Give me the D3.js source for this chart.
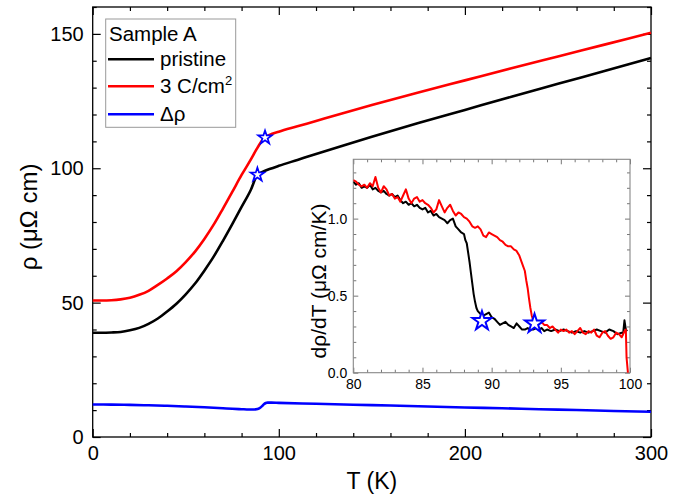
<!DOCTYPE html>
<html><head><meta charset="utf-8">
<script src="https://cdn.jsdelivr.net/npm/d3@7"></script>
<style>
body{margin:0;background:#fff}
svg{display:block}
text{font-family:"Liberation Sans",Arial,sans-serif;fill:#000}
</style>
</head><body>
<svg id="c" width="693" height="497"></svg>
<script>
// ---------- data ----------
const mainT      = [0, 5, 10, 15, 20, 25, 30, 35, 40, 45, 50, 55, 60, 65, 70, 75, 80, 85, 88.5, 90, 92, 95, 100, 110, 120, 133, 150, 175, 200, 225, 250, 275, 300];
const pristine   = [38.8, 38.8, 38.9, 39.1, 39.7, 40.6, 42.1, 44.1, 46.7, 49.6, 53.1, 57.1, 61.9, 67.1, 73.0, 79.2, 85.6, 92.0, 97.6, 98.3, 98.9, 99.7, 100.9, 103.1, 105.3, 108.1, 111.7, 116.8, 121.7, 126.6, 131.4, 136.2, 141.0];
const irrT       = [0, 5, 10, 15, 20, 25, 30, 35, 40, 45, 50, 55, 60, 65, 70, 75, 80, 85, 88, 90, 91.5, 92.6, 95, 100, 110, 120, 133, 150, 175, 200, 225, 250, 275, 300];
const irradiated = [50.8, 50.8, 50.9, 51.2, 51.8, 52.9, 54.4, 56.6, 59.0, 61.7, 65.1, 69.0, 73.7, 79.0, 85.0, 91.2, 97.5, 103.3, 107.0, 109.3, 110.7, 111.4, 112.4, 113.6, 115.6, 117.6, 120.2, 123.5, 128.2, 132.7, 137.2, 141.6, 146.0, 150.4];
const deltaT     = [0, 10, 20, 30, 40, 50, 60, 70, 75, 80, 84, 86, 88, 89, 90, 91, 92, 93, 94, 96, 100, 120, 140, 160, 180, 200, 220, 240, 260, 280, 300];
const deltaRho   = [12.1, 12.05, 11.95, 11.8, 11.6, 11.35, 11.05, 10.7, 10.5, 10.35, 10.25, 10.25, 10.35, 10.5, 10.9, 11.5, 12.2, 12.65, 12.8, 12.8, 12.7, 12.35, 12.0, 11.7, 11.35, 11.0, 10.7, 10.35, 10.05, 9.7, 9.4];
const starMainT  = [88.5, 92.6];
const starMainV  = [97.6, 111.4];

const insetTp = [80.0,80.2,80.4,80.6,80.8,81.0,81.2,81.4,81.6,81.8,82.0,82.2,82.4,82.6,82.8,83.0,83.2,83.4,83.6,83.8,84.0,84.2,84.4,84.6,84.8,85.0,85.2,85.4,85.6,85.8,86.0,86.2,86.4,86.6,86.8,87.0,87.2,87.4,87.6,87.8,88.0,88.1,88.2,88.3,88.4,88.5,88.6,88.7,88.8,88.9,89.0,89.2,89.4,89.6,89.8,90.0,90.2,90.4,90.6,90.8,91.0,91.2,91.4,91.6,91.8,92.0,92.2,92.4,92.6,92.8,93.0,93.2,93.4,93.6,93.8,94.0,94.3,94.6,94.9,95.2,95.5,95.8,96.1,96.4,96.7,97.0,97.3,97.6,97.9,98.2,98.5,98.8,99.1,99.4,99.5,99.6,99.7,99.8];
const insetP  = [1.24,1.22,1.23,1.20,1.21,1.20,1.22,1.19,1.20,1.18,1.17,1.18,1.16,1.15,1.16,1.14,1.15,1.12,1.10,1.11,1.09,1.10,1.08,1.09,1.07,1.06,1.07,1.04,1.05,1.02,1.03,1.01,1.00,0.99,0.97,0.99,1.00,0.95,0.93,0.91,0.90,0.86,0.84,0.78,0.72,0.65,0.58,0.51,0.46,0.42,0.40,0.38,0.37,0.38,0.39,0.36,0.35,0.33,0.31,0.32,0.33,0.31,0.30,0.29,0.32,0.30,0.28,0.28,0.29,0.28,0.28,0.29,0.28,0.29,0.27,0.28,0.27,0.28,0.27,0.28,0.27,0.26,0.27,0.26,0.27,0.26,0.27,0.28,0.27,0.26,0.28,0.27,0.25,0.26,0.25,0.34,0.28,0.27];
const insetTi = [80.0,80.2,80.4,80.6,80.8,81.0,81.2,81.4,81.6,81.8,82.0,82.2,82.4,82.6,82.8,83.0,83.2,83.4,83.6,83.8,84.0,84.2,84.4,84.6,84.8,85.0,85.2,85.4,85.6,85.8,86.0,86.2,86.4,86.6,86.8,87.0,87.2,87.4,87.6,87.8,88.0,88.2,88.4,88.6,88.8,89.0,89.2,89.4,89.6,89.8,90.0,90.2,90.4,90.6,90.8,91.0,91.2,91.4,91.6,91.8,92.0,92.2,92.4,92.5,92.6,92.7,92.8,92.9,93.0,93.2,93.4,93.6,93.8,94.0,94.2,94.4,94.6,94.8,95.0,95.2,95.4,95.6,95.8,96.0,96.2,96.4,96.6,96.8,97.0,97.2,97.4,97.6,97.8,98.0,98.2,98.4,98.6,98.8,99.0,99.2,99.4,99.6,99.7,99.75,99.85];
const insetI  = [1.25,1.24,1.22,1.21,1.22,1.20,1.23,1.21,1.27,1.20,1.17,1.21,1.19,1.15,1.16,1.13,1.14,1.11,1.15,1.19,1.13,1.10,1.13,1.14,1.11,1.12,1.10,1.09,1.07,1.04,1.06,1.12,1.08,1.04,1.07,1.09,1.05,1.02,1.04,1.03,1.01,1.00,0.98,0.95,0.94,0.95,0.93,0.89,0.88,0.91,0.90,0.89,0.88,0.86,0.85,0.83,0.82,0.82,0.80,0.79,0.76,0.71,0.66,0.60,0.55,0.48,0.42,0.37,0.34,0.33,0.32,0.33,0.31,0.31,0.29,0.30,0.28,0.26,0.28,0.27,0.28,0.26,0.27,0.25,0.27,0.29,0.26,0.25,0.27,0.26,0.28,0.24,0.23,0.26,0.27,0.24,0.22,0.23,0.26,0.25,0.23,0.27,0.28,0.10,0.0];
const starInsetT = [89.3, 93.1];
const starInsetV = [0.335, 0.318];

const xTicks = [0, 100, 200, 300];
const yTicks = [0, 50, 100, 150];
const insetXTicks = [80, 85, 90, 95, 100];
const insetYTicks = [0.0, 0.5, 1.0];
const legendTitle = "Sample A";
const legendLabels = ["pristine", "3 C/cm", "Δρ"];
const seriesColors = ["#000000", "#ff0000", "#0000ff"];

// ---------- setup ----------
const svg = d3.select("#c");
const x = d3.scaleLinear().domain([0, 300]).range([92.7, 651]);
const y = d3.scaleLinear().domain([0, 160]).range([437, 7]);

const FONT = '"Liberation Sans", Arial, sans-serif';

function drawAxes(g, xs, ys, opt) {
  const [x0, x1] = xs.range(), [y0, y1] = ys.range();
  const addAxis = (axisFn, scale, ticks, size, transform, fmt) => {
    const a = axisFn(scale).tickValues(ticks).tickSize(size).tickPadding(opt.pad);
    a.tickFormat(fmt || (() => ""));
    const ag = g.append("g").attr("transform", transform).call(a);
    ag.select(".domain").remove();
    ag.selectAll("line").attr("stroke", opt.tickColor).attr("stroke-width", opt.tickW);
    ag.selectAll("text").attr("font-family", FONT).attr("font-size", opt.fs).attr("fill", "#000");
    return ag;
  };
  addAxis(d3.axisBottom, xs, opt.xMinor, -opt.minor, `translate(0,${y0})`);
  addAxis(d3.axisBottom, xs, opt.xMajor, -opt.major, `translate(0,${y0})`, opt.xFmt);
  addAxis(d3.axisTop, xs, opt.xMinor, -opt.minor, `translate(0,${y1})`);
  addAxis(d3.axisTop, xs, opt.xMajor, -opt.major, `translate(0,${y1})`);
  addAxis(d3.axisLeft, ys, opt.yMinor, -opt.minor, `translate(${x0},0)`);
  addAxis(d3.axisLeft, ys, opt.yMajor, -opt.major, `translate(${x0},0)`, opt.yFmt);
  addAxis(d3.axisRight, ys, opt.yMinor, -opt.minor, `translate(${x1},0)`);
  addAxis(d3.axisRight, ys, opt.yMajor, -opt.major, `translate(${x1},0)`);
  g.append("rect").attr("x", x0).attr("y", y1).attr("width", x1 - x0).attr("height", y0 - y1)
    .attr("fill", "none").attr("stroke", opt.frameColor).attr("stroke-width", opt.frameW);
}

// ---------- main plot ----------
const main = svg.append("g");
drawAxes(main, x, y, {
  xMajor: xTicks, yMajor: yTicks,
  xMinor: d3.range(0, 301, 20).filter(v => !xTicks.includes(v)),
  yMinor: d3.range(0, 161, 10).filter(v => !yTicks.includes(v)),
  major: 8, minor: 4, pad: 9, fs: 20, tickColor: "#000", tickW: 1.2, frameColor: "#000", frameW: 1.3,
  xFmt: d3.format("d"), yFmt: d3.format("d")
});

const line = d3.line().curve(d3.curveMonotoneX);
main.append("path").attr("d", line(mainT.map((t, i) => [x(t), y(pristine[i])])))
  .attr("fill", "none").attr("stroke", seriesColors[0]).attr("stroke-width", 2.6);
main.append("path").attr("d", line(irrT.map((t, i) => [x(t), y(irradiated[i])])))
  .attr("fill", "none").attr("stroke", seriesColors[1]).attr("stroke-width", 2.6);
main.append("path").attr("d", line(deltaT.map((t, i) => [x(t), y(deltaRho[i])])))
  .attr("fill", "none").attr("stroke", seriesColors[2]).attr("stroke-width", 2.6);

const starBig = d3.symbol().type(d3.symbolStar).size(7.2 * 7.2 / 0.8908);
main.selectAll(".sm").data(starMainT).join("path")
  .attr("transform", (t, i) => `translate(${x(t)},${y(starMainV[i])})`)
  .attr("d", starBig).attr("fill", "#fff").attr("stroke", "#0000ff").attr("stroke-width", 1.7);

// axis titles
svg.append("text").attr("x", (x(0) + x(300)) / 2).attr("y", 489).attr("text-anchor", "middle")
  .attr("font-size", 23).text("T (K)");
svg.append("text").attr("transform", `translate(37,217) rotate(-90)`)
  .attr("text-anchor", "middle").attr("font-size", 24).text("ρ (μΩ cm)");

// legend
const lg = svg.append("g");
lg.append("rect").attr("x", 105.7).attr("y", 19).attr("width", 130).attr("height", 108.3)
  .attr("fill", "#fff").attr("stroke", "#999").attr("stroke-width", 1);
lg.append("text").attr("x", 109).attr("y", 41).attr("font-size", 20.5).text(legendTitle);
const rowY = [59.3, 86.3, 114.3];
legendLabels.forEach((lab, i) => {
  lg.append("line").attr("x1", 108).attr("x2", 154).attr("y1", rowY[i]).attr("y2", rowY[i])
    .attr("stroke", seriesColors[i]).attr("stroke-width", 2.6);
  const t = lg.append("text").attr("x", 160).attr("y", rowY[i] + 6.5).attr("font-size", 20.5).text(lab);
  if (i === 1) t.append("tspan").attr("dy", -8).attr("font-size", 13).text("2");
});

// ---------- inset ----------
const xi = d3.scaleLinear().domain([80, 100]).range([353.3, 630]);
const yi = d3.scaleLinear().domain([0, 1.385]).range([372.7, 159.3]);
const ins = svg.append("g");
ins.append("rect").attr("x", 353.3).attr("y", 159.3).attr("width", 630 - 353.3).attr("height", 372.7 - 159.3).attr("fill", "#fff");
svg.append("defs").append("clipPath").attr("id", "ic").append("rect")
  .attr("x", 353.3).attr("y", 159.3).attr("width", 630 - 353.3).attr("height", 372.7 - 159.3 + 1);
drawAxes(ins, xi, yi, {
  xMajor: insetXTicks, yMajor: insetYTicks,
  xMinor: d3.range(80, 100.01, 1).filter(v => !insetXTicks.includes(v)),
  yMinor: d3.range(0, 1.39, 0.1).map(v => +v.toFixed(1)).filter(v => !insetYTicks.includes(v)),
  major: 5, minor: 3, pad: 6, fs: 14, tickColor: "#777", tickW: 1, frameColor: "#888", frameW: 1.1,
  xFmt: d3.format("d"), yFmt: d3.format(".1f")
});
const lineI = d3.line();
const cl = ins.append("g").attr("clip-path", "url(#ic)");
cl.append("path").attr("d", lineI(insetTp.map((t, i) => [xi(t), yi(insetP[i])])))
  .attr("fill", "none").attr("stroke", seriesColors[0]).attr("stroke-width", 2).attr("stroke-linejoin", "round");
cl.append("path").attr("d", lineI(insetTi.map((t, i) => [xi(t), yi(insetI[i])])))
  .attr("fill", "none").attr("stroke", seriesColors[1]).attr("stroke-width", 2).attr("stroke-linejoin", "round");
const starIn = d3.symbol().type(d3.symbolStar).size(10 * 10 / 0.8908);
ins.selectAll(".si").data(starInsetT).join("path")
  .attr("transform", (t, i) => `translate(${xi(t)},${yi(starInsetV[i])})`)
  .attr("d", starIn).attr("fill", "#fff").attr("stroke", "#0000ff").attr("stroke-width", 2);
svg.append("text").attr("transform", `translate(326,${(159.3 + 372.7) / 2 + 15}) rotate(-90)`)
  .attr("text-anchor", "middle").attr("font-size", 21).text("dρ/dT (μΩ cm/K)");
</script>
</body></html>
